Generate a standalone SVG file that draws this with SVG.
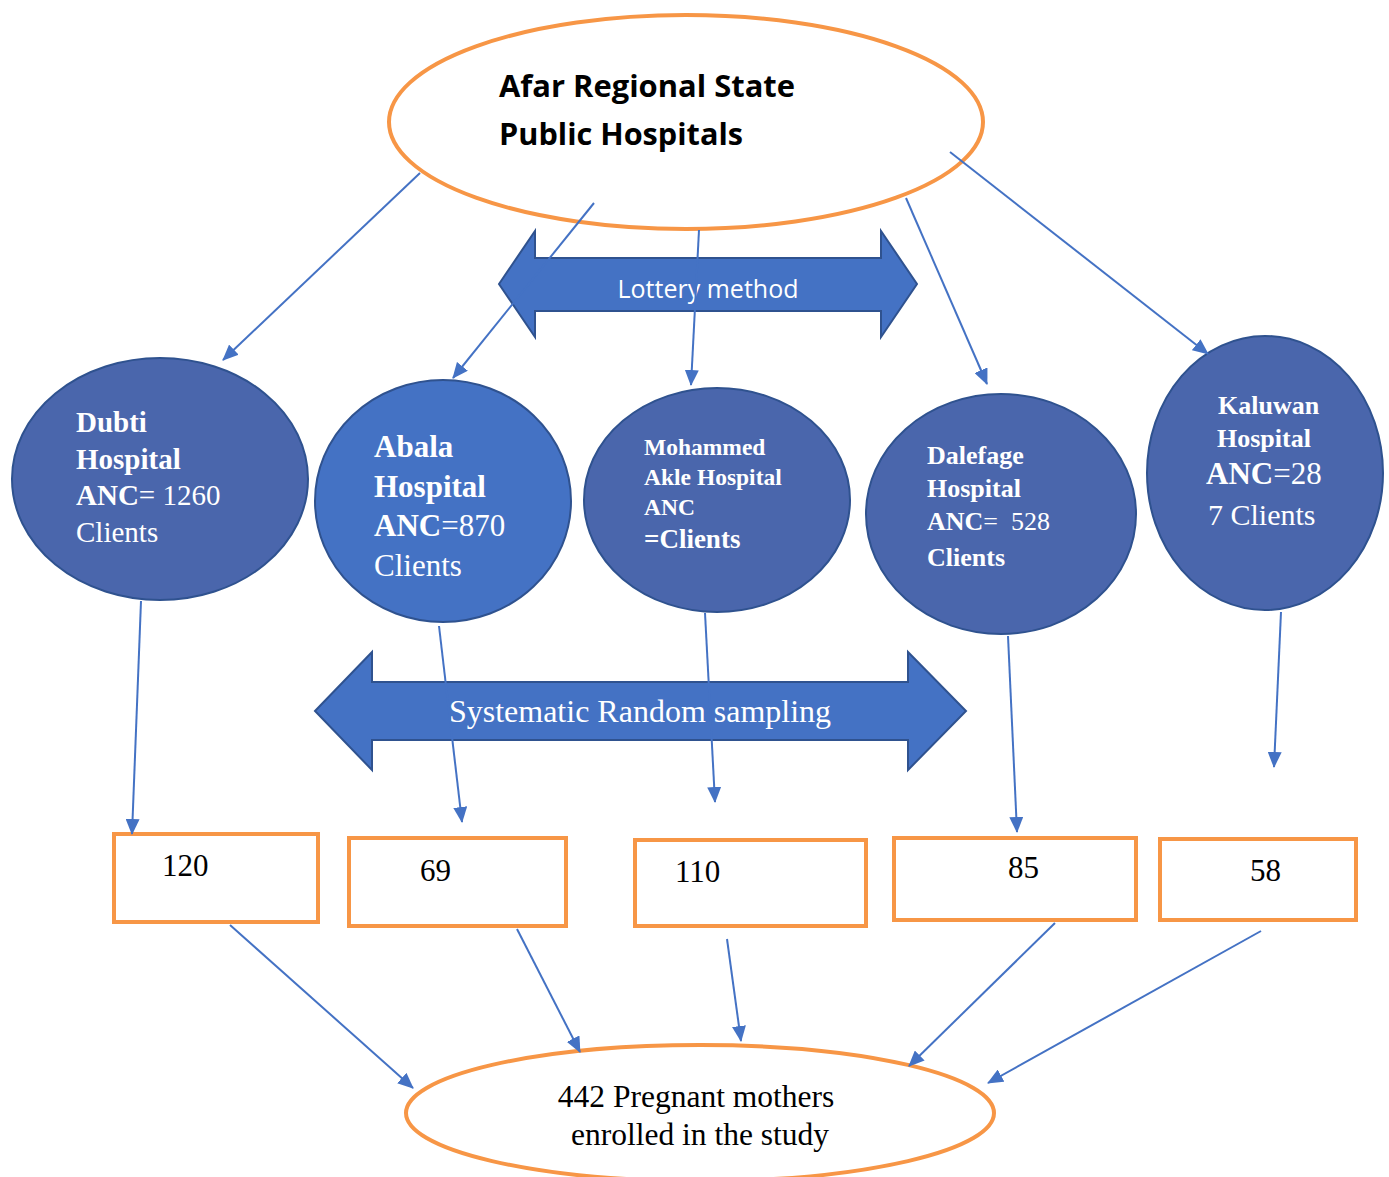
<svg xmlns="http://www.w3.org/2000/svg" width="1389" height="1177" viewBox="0 0 1389 1177">
<defs>
<marker id="ah" markerUnits="userSpaceOnUse" markerWidth="16" markerHeight="14" refX="15" refY="7" orient="auto">
<path d="M0,0 L16,7 L0,14 Z" fill="#4472C4"/>
</marker>
<style>
.orange{fill:#fff;stroke:#F79646;stroke-width:4}
.hosp{stroke:#2F528F;stroke-width:2}
.dark{fill:#4A66AC}
.bright{fill:#4472C4}
.dbl{fill:#4472C4;stroke:#2F528F;stroke-width:2}
.t{font-family:"Liberation Serif","Times New Roman",serif;fill:#fff}
.b{font-weight:bold}
.n{font-family:"Liberation Serif","Times New Roman",serif;fill:#000}
.c{stroke:#4472C4;stroke-width:2;fill:none;marker-end:url(#ah)}
</style>
</defs>
<rect width="1389" height="1177" fill="#fff"/>

<g id="top">
<ellipse class="orange" cx="686" cy="122" rx="297" ry="107"/>
<text font-family="'Open Sans','Liberation Sans',sans-serif" font-weight="bold" font-size="30" fill="#000">
<tspan x="499" y="97" textLength="296" lengthAdjust="spacingAndGlyphs">Afar Regional State</tspan>
<tspan x="499" y="145" textLength="244" lengthAdjust="spacingAndGlyphs">Public Hospitals</tspan>
</text>
</g>

<g id="lottery">
<path class="dbl" d="M499,284 L535,231 L535,258 L881,258 L881,231 L917,284 L881,337 L881,311 L535,311 L535,337 Z"/>
<text x="708" y="298" text-anchor="middle" font-family="'Open Sans','Liberation Sans',sans-serif" font-size="25" fill="#fff">Lottery method</text>
</g>

<g id="systematic">
<path class="dbl" d="M315,711 L372,652 L372,682 L908,682 L908,652 L966,711 L908,770 L908,740 L372,740 L372,770 Z"/>
<text x="640" y="722" text-anchor="middle" class="t" font-size="32">Systematic Random sampling</text>
</g>

<g id="dubti">
<ellipse class="hosp dark" cx="160" cy="479" rx="148" ry="121"/>
<text class="t" font-size="29">
<tspan class="b" x="76" y="432">Dubti</tspan>
<tspan class="b" x="76" y="469">Hospital</tspan>
<tspan x="76" y="505"><tspan class="b">ANC</tspan>= 1260</tspan>
<tspan x="76" y="542">Clients</tspan>
</text>
</g>

<g id="abala">
<ellipse class="hosp bright" cx="443" cy="501" rx="128" ry="121"/>
<text class="t" font-size="31">
<tspan class="b" x="374" y="457">Abala</tspan>
<tspan class="b" x="374" y="497">Hospital</tspan>
<tspan x="374" y="536"><tspan class="b">ANC</tspan>=870</tspan>
<tspan x="374" y="576">Clients</tspan>
</text>
</g>

<g id="mohammed">
<ellipse class="hosp dark" cx="717" cy="500" rx="133" ry="112"/>
<text class="t b" font-size="23.5">
<tspan x="644" y="455">Mohammed</tspan>
<tspan x="644" y="485">Akle Hospital</tspan>
<tspan x="644" y="515">ANC</tspan>
<tspan x="644" y="548" font-size="27">=Clients</tspan>
</text>
</g>

<g id="dalefage">
<ellipse class="hosp dark" cx="1001" cy="514" rx="135" ry="120"/>
<text class="t" font-size="26">
<tspan class="b" x="927" y="464">Dalefage</tspan>
<tspan class="b" x="927" y="497">Hospital</tspan>
<tspan x="927" y="530"><tspan class="b">ANC</tspan>=&#160; 528</tspan>
<tspan class="b" x="927" y="566">Clients</tspan>
</text>
</g>

<g id="kaluwan">
<ellipse class="hosp dark" cx="1265" cy="473" rx="118" ry="137"/>
<text class="t" font-size="26">
<tspan class="b" x="1218" y="414">Kaluwan</tspan>
<tspan class="b" x="1217" y="447">Hospital</tspan>
<tspan x="1206" y="484" font-size="31"><tspan class="b">ANC</tspan>=28</tspan>
<tspan x="1208" y="525" font-size="30">7 Clients</tspan>
</text>
</g>

<g id="box120"><rect class="orange" x="114" y="834" width="204" height="88"/><text class="n" x="162" y="876" font-size="31">120</text></g>
<g id="box69"><rect class="orange" x="349" y="838" width="217" height="88"/><text class="n" x="420" y="881" font-size="31">69</text></g>
<g id="box110"><rect class="orange" x="635" y="840" width="231" height="86"/><text class="n" x="675" y="882" font-size="31">110</text></g>
<g id="box85"><rect class="orange" x="894" y="838" width="242" height="82"/><text class="n" x="1008" y="878" font-size="31">85</text></g>
<g id="box58"><rect class="orange" x="1160" y="839" width="196" height="81"/><text class="n" x="1250" y="881" font-size="31">58</text></g>

<g id="result">
<ellipse class="orange" cx="700" cy="1113" rx="294" ry="68"/>
<text class="n" font-size="31.5" text-anchor="middle">
<tspan x="700" y="1107">442 Pregnant mothers</tspan>
<tspan x="700" y="1145">enrolled in the study</tspan>
</text>
</g>

<g id="connectors">
<line class="c" x1="420" y1="173" x2="223" y2="360"/>
<line class="c" x1="594" y1="203" x2="453" y2="378"/>
<line class="c" x1="699" y1="230" x2="691" y2="385"/>
<line class="c" x1="906" y1="198" x2="987" y2="384"/>
<line class="c" x1="950" y1="152" x2="1208" y2="354"/>
<line class="c" x1="141" y1="601" x2="132" y2="834"/>
<line class="c" x1="439" y1="626" x2="462" y2="822"/>
<line class="c" x1="705" y1="613" x2="715" y2="802"/>
<line class="c" x1="1008" y1="636" x2="1017" y2="832"/>
<line class="c" x1="1281" y1="612" x2="1274" y2="767"/>
<line class="c" x1="230" y1="925" x2="413" y2="1088"/>
<line class="c" x1="517" y1="929" x2="580" y2="1052"/>
<line class="c" x1="727" y1="939" x2="741" y2="1041"/>
<line class="c" x1="1055" y1="923" x2="909" y2="1066"/>
<line class="c" x1="1261" y1="931" x2="988" y2="1083"/>
</g>
</svg>
